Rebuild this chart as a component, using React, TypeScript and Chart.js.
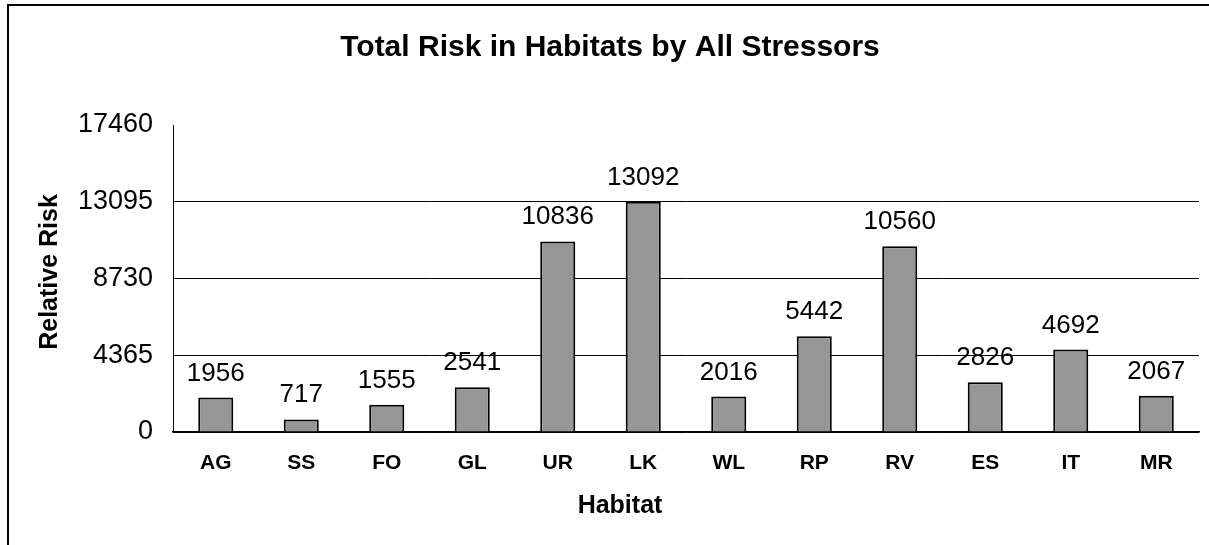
import React, { useEffect, useRef } from "react";
import { Chart, registerables } from "chart.js";

Chart.register(...registerables);

const categories = ["AG", "SS", "FO", "GL", "UR", "LK", "WL", "RP", "RV", "ES", "IT", "MR"];
const riskValues = [1956, 717, 1555, 2541, 10836, 13092, 2016, 5442, 10560, 2826, 4692, 2067];
const yTicks = [0, 4365, 8730, 13095, 17460];
const titleText = "Total Risk in Habitats by All Stressors";
const xTitleText = "Habitat";
const yTitleText = "Relative Risk";

const FONT = "'Liberation Sans', Arial, sans-serif";

const decorPlugin = {
  id: "decor",
  beforeDraw(chart: any) {
    const ctx = chart.ctx;
    ctx.save();
    ctx.fillStyle = "#fff";
    ctx.fillRect(0, 0, chart.width, chart.height);
    ctx.fillStyle = "#000";
    ctx.fillRect(7, 4, chart.width - 7, 2);
    ctx.fillRect(7, 4, 2, chart.height - 4);
    ctx.restore();
  },
  afterDraw(chart: any) {
    const ctx = chart.ctx;
    ctx.save();
    ctx.fillStyle = "#000";
    ctx.textAlign = "center";
    ctx.textBaseline = "alphabetic";
    ctx.font = `bold 30px ${FONT}`;
    ctx.fillText(titleText, 610, 56);
    ctx.font = `bold 25px ${FONT}`;
    ctx.fillText(xTitleText, 620, 513);
    ctx.translate(57, 272);
    ctx.rotate(-Math.PI / 2);
    ctx.fillText(yTitleText, 0, 0);
    ctx.restore();

    // data labels
    const meta = chart.getDatasetMeta(0);
    ctx.save();
    ctx.fillStyle = "#000";
    ctx.textAlign = "center";
    ctx.textBaseline = "alphabetic";
    ctx.font = `26px ${FONT}`;
    meta.data.forEach((bar: any, i: number) => {
      ctx.fillText(String(riskValues[i]), bar.x, bar.y - 17);
    });
    ctx.restore();
  },
};

export default function App() {
  const ref = useRef<HTMLCanvasElement | null>(null);
  useEffect(() => {
    if (!ref.current) return;
    const chart = new Chart(ref.current, {
      type: "bar",
      data: {
        labels: categories,
        datasets: [
          {
            data: riskValues,
            backgroundColor: "#969696",
            borderColor: "#000",
            borderWidth: 2,
            categoryPercentage: 1,
            barPercentage: 0.41,
          },
        ],
      },
      options: {
        animation: false,
        responsive: false,
        maintainAspectRatio: false,
        layout: { padding: { left: 0, top: 125, right: 10, bottom: 0 } },
        plugins: {
          legend: { display: false },
          title: { display: false },
          tooltip: { enabled: false },
        },
        scales: {
          x: {
            grid: { display: false, drawTicks: false },
            border: { display: true, color: "#000", width: 1.5 },
            ticks: {
              color: "#000",
              font: { family: FONT, size: 21, weight: "bold" },
              padding: 19,
              maxRotation: 0,
            },
            afterFit(scale: any) {
              scale.height = 113;
            },
          },
          y: {
            min: 0,
            max: 17460,
            afterBuildTicks(scale: any) {
              scale.ticks = yTicks.map((v) => ({ value: v }));
            },
            grid: {
              drawTicks: false,
              color: (c: any) => (c.tick && c.tick.value === 17460 ? "rgba(0,0,0,0)" : "#000"),
              lineWidth: 1,
            },
            border: { display: true, color: "#000", width: 1 },
            ticks: {
              color: "#000",
              font: { family: FONT, size: 27 },
              padding: 20,
              callback: (v: any) => String(v),
            },
            afterFit(scale: any) {
              scale.width = 173;
            },
          },
        },
      },
      plugins: [decorPlugin],
    });
    return () => chart.destroy();
  }, []);
  return (
    <div style={{ position: "fixed", left: 0, top: 0, width: 1209, height: 545, background: "#fff" }}>
      <canvas ref={ref} width={1209} height={545} style={{ display: "block", width: 1209, height: 545 }} />
    </div>
  );
}
